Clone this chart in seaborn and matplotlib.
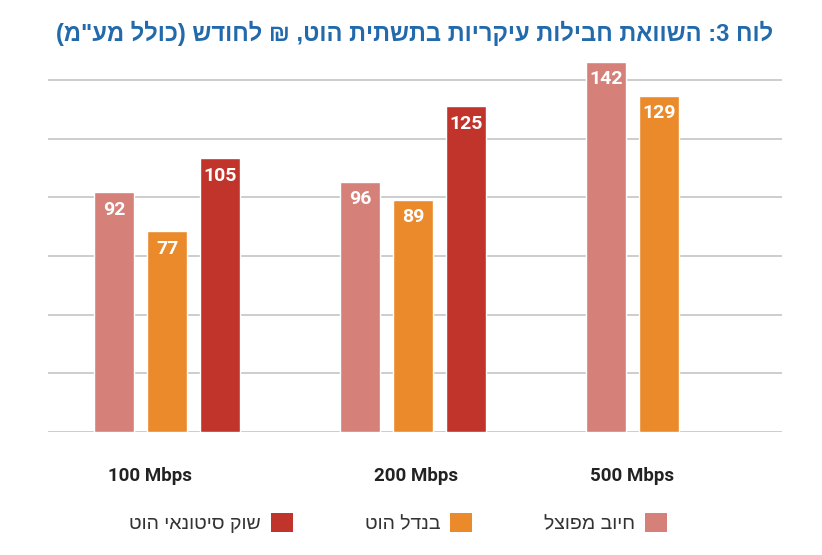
import numpy as np
import pandas as pd
import matplotlib
matplotlib.use("Agg")
import matplotlib.pyplot as plt
from matplotlib.patches import Patch
import seaborn as sns

# ---------------- data ----------------
speeds = ["100 Mbps", "200 Mbps", "500 Mbps"]
plans = ["חיוב מפוצל", "בנדל הוט", "שוק סיטונאי הוט"]
split_billing = [92, 96, 142]
hot_bundle = [77, 89, 129]
wholesale = [105, 125, None]          # no 500 Mbps wholesale package
title_text = 'לוח 3: השוואת חבילות עיקריות בתשתית הוט, ₪ לחודש (כולל מע"מ)'

colors = ["#d6807a", "#ea8a2b", "#c1342b"]

rows = []
for plan, vals in zip(plans, [split_billing, hot_bundle, wholesale]):
    for sp, v in zip(speeds, vals):
        if v is not None:
            rows.append({"speed": sp, "plan": plan, "price": v})
df = pd.DataFrame(rows)


def visual(s):
    """Logical RTL Hebrew -> visual LTR order for matplotlib."""
    r = s[::-1]
    return r.translate(str.maketrans("()", ")("))


sns.set_theme(style="white")
HEB = ["Liberation Sans", "DejaVu Sans"]
LAT = ["Roboto", "DejaVu Sans"]

fig = plt.figure(figsize=(8.22, 5.55), dpi=100)
W, H = 822, 555
ax = fig.add_axes([48 / W, (H - 432) / H, 734 / W, 391 / H])

sns.barplot(data=df, x="speed", y="price", hue="plan", order=speeds,
            hue_order=plans, palette=colors, width=0.646, gap=0.245,
            saturation=1, legend=False, ax=ax, errorbar=None)

ax.set_ylim(0, 150)
ax.set_xlim(-0.484, 2.5)
ax.set_yticks(np.arange(0, 140, 22.5))
ax.yaxis.grid(True, color="#c9c9c9", linewidth=1.3)
ax.set_axisbelow(True)
ax.tick_params(axis="y", left=False, labelleft=False)
for sp in ax.spines.values():
    sp.set_visible(False)
ax.set_xlabel("")
ax.set_ylabel("")

# category labels
ax.set_xticks([-0.069, 1.012, 1.89])
ax.set_xticklabels(speeds, family=LAT, fontweight="bold", fontsize=13.5,
                   color="#222222")
ax.tick_params(axis="x", bottom=False, pad=19)

# value labels
for cont in ax.containers:
    for bar in cont:
        h = bar.get_height()
        if np.isnan(h):
            continue
        ax.annotate(f"{h:.0f}", (bar.get_x() + bar.get_width() / 2, h),
                    xytext=(0, -12.5), textcoords="offset points",
                    ha="center", va="center", color="white",
                    fontweight="bold", fontsize=14, family=LAT)

# title
fig.text(773 / W, 1 - 33 / H, visual(title_text), ha="right", va="center",
         color="#226aab", fontweight="bold", fontsize=17, family=HEB)

# legend (right-to-left order)
handles = [Patch(facecolor=c, edgecolor="none") for c in colors][::-1]
labels = [visual(p) for p in plans][::-1]
fs = 14
fpx = fs * 100 / 72
fig.legend(handles, labels, loc="center", bbox_to_anchor=(398 / W, 1 - 523 / H),
           ncol=3, markerfirst=False, frameon=False,
           prop={"family": HEB, "size": fs},
           labelcolor="#333333",
           handlelength=22 / fpx, handleheight=22 / fpx,
           handletextpad=10 / fpx, columnspacing=72 / fpx)

fig.savefig("out.png", dpi=100)
